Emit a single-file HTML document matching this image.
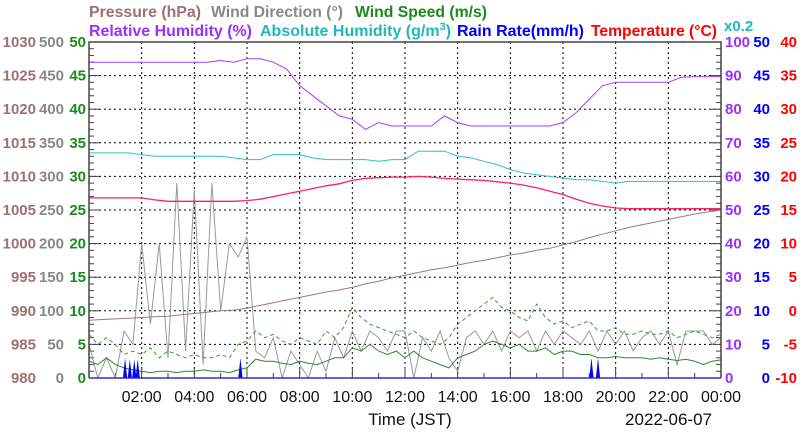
<!DOCTYPE html>
<html><head><meta charset="utf-8"><style>
body{margin:0;background:#fff;width:800px;height:434px;overflow:hidden;font-family:"Liberation Sans",sans-serif}
svg text{font-family:"Liberation Sans",sans-serif}
</style></head><body>
<svg id="c" width="800" height="434" xmlns="http://www.w3.org/2000/svg"></svg>
<script>
// ---- data ----
const hoursTick = ["02:00","04:00","06:00","08:00","10:00","12:00","14:00","16:00","18:00","20:00","22:00","00:00"];
const pressureLabels = [980,985,990,995,1000,1005,1010,1015,1020,1025,1030];
const windDirLabels = [0,50,100,150,200,250,300,350,400,450,500];
const windSpdLabels = [0,5,10,15,20,25,30,35,40,45,50];
const rhLabels = [0,10,20,30,40,50,60,70,80,90,100];
const rainLabels = [0,5,10,15,20,25,30,35,40,45,50];
const tempLabels = [-10,-5,0,5,10,15,20,25,30,35,40];
// half-hourly series (49 points, 00:00..24:00)
const rhVals = [94,94,94,94,94,94,94,94,94,94,94.5,94,95,95,94,92,87,84,81,78,77,74,76,75,75,75,75,78,76,75,75,75,75,75,75,75,76,79,83,87,88,88,88,88,88,89.5,89.7,89.7,89.7];
const ahVals = [13.4,13.4,13.4,13.4,13.3,13.2,13.2,13.2,13.2,13.2,13.2,13.1,13.0,13.0,13.3,13.3,13.3,13.1,13.0,13.0,13.0,13.0,12.9,13.0,13.0,13.5,13.5,13.5,13.2,13.1,12.9,12.7,12.4,12.2,12.1,12.0,11.9,11.8,11.8,11.7,11.6,11.7,11.7,11.7,11.7,11.7,11.7,11.7,11.7];
const tempVals = [16.8,16.8,16.8,16.8,16.8,16.5,16.3,16.3,16.3,16.3,16.3,16.3,16.4,16.6,17.0,17.4,17.8,18.2,18.6,18.9,19.4,19.7,19.8,19.9,19.9,20.0,19.9,19.7,19.6,19.5,19.4,19.2,19.0,18.7,18.3,17.8,17.3,16.6,16.0,15.6,15.3,15.2,15.2,15.2,15.2,15.2,15.2,15.2,15.2];
const pressVals = [988.6,988.7,988.8,988.9,989.0,989.1,989.2,989.4,989.6,989.8,990.0,990.1,990.4,990.8,991.2,991.6,992.0,992.4,992.8,993.1,993.5,994.0,994.4,994.9,995.3,995.7,996.1,996.4,996.8,997.2,997.5,997.9,998.3,998.6,999.0,999.3,999.8,1000.3,1000.9,1001.4,1001.9,1002.4,1002.8,1003.2,1003.6,1004.0,1004.4,1004.7,1005.0];
// 20-min wind series (73 points)
const windDir = [50,0,30,0,70,50,200,80,200,30,290,40,280,20,290,100,200,180,210,40,30,60,0,40,20,0,40,10,60,30,70,40,70,60,40,70,70,0,60,40,70,30,10,60,70,50,70,40,70,60,70,40,70,50,70,60,50,70,40,70,50,70,40,60,70,50,70,20,70,70,70,50,60];
const windSpd = [2.5,2.0,3.0,2.0,1.5,1.2,1.0,0.8,1.0,1.0,0.8,1.0,1.0,1.2,1.0,1.0,0.8,1.2,1.5,2.8,2.5,2.5,2.2,2.0,2.5,2.2,2.0,2.5,3.0,3.0,4.5,4.0,5.0,4.0,3.5,4.0,3.0,4.0,3.0,2.5,2.0,1.5,3.0,3.5,4.0,5.0,5.5,5.0,4.5,5.0,4.0,4.0,4.5,3.5,4.0,4.0,3.5,3.5,3.0,3.0,3.2,3.0,3.0,3.0,2.8,3.0,2.8,2.6,2.8,2.5,2.0,2.5,2.7];
const windGust = [6.5,5.0,6.0,5.0,3.5,4.0,3.5,4.5,3.0,4.0,3.5,3.0,3.5,3.0,3.0,3.5,3.0,5.0,5.5,7.0,6.0,6.5,5.5,5.0,6.0,5.5,5.0,7.0,6.0,7.5,10.5,9.0,8.0,7.5,7.0,6.5,6.0,7.0,6.0,5.5,5.0,6.0,8.0,9.0,10.0,11.0,12.0,10.5,10.0,9.0,8.5,11.0,9.0,8.0,8.5,7.5,8.0,8.5,7.0,7.0,7.5,6.5,6.5,7.0,6.5,6.5,7.0,6.0,6.5,7.0,6.5,6.0,6.5];
const rainTimes = [1.37,1.55,1.72,1.85,5.75,19.08,19.33];
const rainVals = [3.0,2.8,2.8,2.8,3.0,3.0,3.0];

// ---- geometry ----
const L=89,R=721,T=42,B=378;
const X=h=>L+h/24*(R-L);
const Yf=f=>B-f*(B-T);
const svg=document.getElementById('c');
const NS="http://www.w3.org/2000/svg";
function mk(tag,attrs,parent){const e=document.createElementNS(NS,tag);for(const k in attrs)e.setAttribute(k,attrs[k]);(parent||svg).appendChild(e);return e;}

// grid
const grid=mk('g',{stroke:'#000','stroke-width':1,'stroke-dasharray':'2,3'});


for(let i=1;i<10;i++){const y=Yf(i/10);mk('line',{x1:L,x2:R,y1:y,y2:y},grid);}
for(let h=2;h<24;h+=2){mk('line',{x1:X(h),x2:X(h),y1:T,y2:B},grid);}
// ticks
const tk=mk('g',{stroke:'#444','stroke-width':1});


for(let i=0;i<=50;i++){const y=Yf(i/50);const len=i%5==0?10:5;mk('line',{x1:L,x2:L+len,y1:y,y2:y},tk);mk('line',{x1:R-len,x2:R,y1:y,y2:y},tk);}
for(let h=1;h<24;h++){mk('line',{x1:X(h),x2:X(h),y1:B,y2:B-(h%2==0?10:5)},tk);}

function line(vals,toFrac,step,color,name,dash,w){
  const pts=vals.map((v,i)=>X(i*step).toFixed(1)+','+Yf(toFrac(v)).toFixed(1)).join(' ');
  const p=mk('polyline',{points:pts,fill:'none',stroke:color,'stroke-width':w||1});
  if(dash)p.setAttribute('stroke-dasharray',dash);
  
  
}
line(windDir,v=>v/500,1/3,'#999','wind-direction-line');
line(pressVals,v=>(v-980)/50,0.5,'#a07878','pressure-line');
line(ahVals,v=>v/0.2/100,0.5,'#30c0c0','absolute-humidity-line');
line(rhVals,v=>v/100,0.5,'#a040ff','relative-humidity-line');
line(tempVals,v=>(v+10)/50,0.5,'#ff2060','temperature-line',null,1.3);
line(windGust,v=>v/50,1/3,'#3a9a3a','wind-gust-line','4,3');
line(windSpd,v=>v/50,1/3,'#2a8a2a','wind-speed-line');
rainTimes.forEach((t,i)=>{
  const p=mk('polygon',{points:`${X(t-0.08)},${B} ${X(t)},${Yf(rainVals[i]/50)} ${X(t+0.08)},${B}`,fill:'#0000ff'});
  
  
});
const fr=mk('path',{d:`M${L},${B}V${T}H${R}V${B}`,fill:'none',stroke:'#444','stroke-width':1.5});


const bl=mk('line',{x1:L,x2:R,y1:B,y2:B,stroke:'#3030c0','stroke-width':1.5});



function txt(s,x,y,color,anchor,size,name,len){const t=mk('text',{x:x,y:y,fill:color,'text-anchor':anchor,'font-size':size,'font-weight':'bold'});t.textContent=s;
  if(len){t.setAttribute('textLength',len);t.setAttribute('lengthAdjust','spacingAndGlyphs');}
  
  
  return t;}
for(let i=0;i<=10;i++){const y=Yf(i/10)+5;
  txt(pressureLabels[i],36,y,'#a07070','end',15,'pressure-tick-label');
  txt(windDirLabels[i],64,y,'#888','end',15,'wind-direction-tick-label');
  txt(windSpdLabels[i],86,y,'#1a8a1a','end',15,'wind-speed-tick-label');
  txt(rhLabels[i],725,y,'#9a30ff','start',15,'humidity-tick-label');
  txt(rainLabels[i],770,y,'#0000ff','end',15,'rain-tick-label');
  txt(tempLabels[i],797,y,'#ff0000','end',15,'temperature-tick-label');
}
hoursTick.forEach((s,i)=>{const t=txt(s,X((i+1)*2),402,'#111','middle',16,'x-tick-label');t.setAttribute('font-weight','normal');});
const xt=txt('Time (JST)',410,425,'#111','middle',17,'x-axis-title');xt.setAttribute('font-weight','normal');
const dt=txt('2022-06-07',712,425,'#111','end',17,'date-label');dt.setAttribute('font-weight','normal');
txt('Pressure (hPa)',89,17,'#a07070','start',16,'legend-pressure',112);
txt('Wind Direction (°)',211,17,'#888','start',16,'legend-wind-direction',132);
txt('Wind Speed (m/s)',355,17,'#1a8a1a','start',16,'legend-wind-speed',132);
txt('Relative Humidity (%)',89,36,'#9a30ff','start',16,'legend-relative-humidity',163);
const ah=txt('Absolute Humidity (g/m',260,36,'#20b8b8','start',16,'legend-absolute-humidity');
const sup=document.createElementNS(NS,'tspan');sup.setAttribute('font-size',11);sup.setAttribute('dy',-6);sup.textContent='3';ah.appendChild(sup);
const cl=document.createElementNS(NS,'tspan');cl.setAttribute('dy',6);cl.textContent=')';ah.appendChild(cl);
txt('Rain Rate(mm/h)',457,36,'#0000ff','start',16,'legend-rain-rate',127);
txt('Temperature (°C)',591,36,'#ff0000','start',16,'legend-temperature',126);
txt('x0.2',724,31,'#20b8b8','start',15,'absolute-humidity-scale-note');
</script>
</body></html>
